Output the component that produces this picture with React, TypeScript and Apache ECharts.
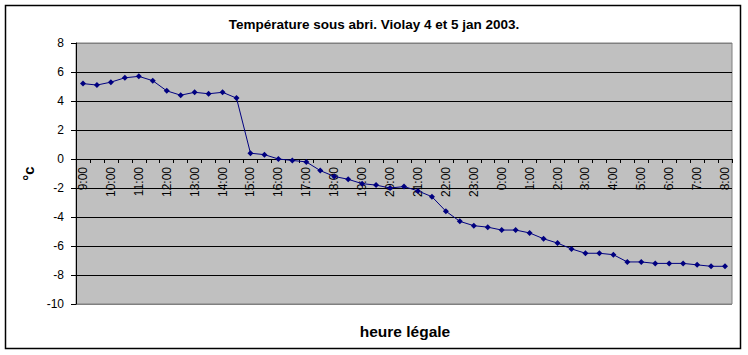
import React, { useEffect, useRef } from "react";
import * as echarts from "echarts";

const categories: string[] = [
  "9:00", "9:30", "10:00", "10:30", "11:00", "11:30", "12:00", "12:30",
  "13:00", "13:30", "14:00", "14:30", "15:00", "15:30", "16:00", "16:30",
  "17:00", "17:30", "18:00", "18:30", "19:00", "19:30", "20:00", "20:30",
  "21:00", "21:30", "22:00", "22:30", "23:00", "23:30", "0:00", "0:30",
  "1:00", "1:30", "2:00", "2:30", "3:00", "3:30", "4:00", "4:30",
  "5:00", "5:30", "6:00", "6:30", "7:00", "7:30", "8:00",
];

const temperatures: number[] = [
  5.2, 5.1, 5.3, 5.6, 5.7, 5.4, 4.7, 4.4, 4.6, 4.5, 4.6, 4.2,
  0.4, 0.3, 0.0, -0.1, -0.2, -0.8, -1.2, -1.4, -1.7, -1.8,
  -2.0, -1.9, -2.2, -2.6, -3.6, -4.3, -4.6, -4.7, -4.9, -4.9,
  -5.1, -5.5, -5.8, -6.2, -6.5, -6.5, -6.6, -7.1, -7.1, -7.2,
  -7.2, -7.2, -7.3, -7.4, -7.4,
];

const titleText = "Température sous abri. Violay 4 et 5 jan 2003.";
const xAxisTitle = "heure légale";
const yAxisTitle = "°c";
const yMin = -10;
const yMax = 8;
const yStep = 2;

const FONT = "'Liberation Sans', Arial, sans-serif";

const GRID_TOP = 43;
const GRID_BOTTOM = 51;
const GRID_H = 355 - GRID_TOP - GRID_BOTTOM;

export default function App() {
  const ref = useRef<HTMLDivElement>(null);

  useEffect(() => {
    if (!ref.current) return;
    const chart = echarts.init(ref.current, undefined, { renderer: "svg" });
    const splitColors: string[] = [];
    const nTicks = Math.round((yMax - yMin) / yStep) + 1;
    for (let i = 0; i < nTicks; i++) {
      splitColors.push(i === 0 || i === nTicks - 1 ? "#808080" : "#000000");
    }
    // move the category axis (line, ticks and labels) up to the value 0
    const zeroOffset = -((0 - yMin) / (yMax - yMin)) * GRID_H;
    chart.setOption({
      animation: false,
      backgroundColor: "#ffffff",
      title: {
        text: titleText,
        left: "center",
        top: 12,
        textStyle: {
          fontFamily: FONT,
          fontSize: 13.5,
          fontWeight: "bold",
          color: "#000",
        },
      },
      grid: {
        left: 76,
        top: GRID_TOP,
        right: 16,
        bottom: GRID_BOTTOM,
        show: true,
        backgroundColor: "#C0C0C0",
        borderColor: "#808080",
        borderWidth: 1,
      },
      xAxis: {
        type: "category",
        data: categories,
        boundaryGap: true,
        position: "bottom",
        offset: zeroOffset,
        axisLine: { onZero: false, lineStyle: { color: "#000", width: 1 } },
        axisTick: { show: true, interval: 0, length: 4, lineStyle: { color: "#000" } },
        axisLabel: {
          interval: 1,
          rotate: 90,
          margin: 8,
          fontFamily: FONT,
          fontSize: 12,
          color: "#000",
        },
        splitLine: { show: false },
      },
      yAxis: {
        type: "value",
        min: yMin,
        max: yMax,
        interval: yStep,
        name: yAxisTitle,
        nameLocation: "middle",
        nameRotate: 90,
        nameGap: 40,
        nameTextStyle: {
          fontFamily: FONT,
          fontSize: 15,
          fontWeight: "bold",
          color: "#000",
        },
        axisLine: { show: true, lineStyle: { color: "#000", width: 1 } },
        axisTick: { show: true, length: 5, lineStyle: { color: "#000" } },
        axisLabel: {
          margin: 12,
          fontFamily: FONT,
          fontSize: 12,
          color: "#000",
        },
        splitLine: { show: true, lineStyle: { color: splitColors, width: 1 } },
      },
      graphic: [
        {
          type: "rect",
          shape: { x: 5.5, y: 5.5, width: 735, height: 343 },
          style: { fill: "none", stroke: "#000", lineWidth: 1.5 },
          silent: true,
        },
        {
          type: "text",
          x: 405,
          y: 331,
          style: {
            text: xAxisTitle,
            fontFamily: FONT,
            fontSize: 15.5,
            fontWeight: "bold",
            fill: "#000",
            align: "center",
            verticalAlign: "middle",
          },
        },
      ],
      series: [
        {
          type: "line",
          data: temperatures,
          symbol: "diamond",
          symbolSize: 6,
          lineStyle: { color: "#000080", width: 1 },
          itemStyle: { color: "#000080" },
        },
      ],
    });
    return () => chart.dispose();
  }, []);

  return (
    <div
      ref={ref}
      style={{ position: "absolute", left: 0, top: 0, width: 748, height: 355 }}
    />
  );
}
